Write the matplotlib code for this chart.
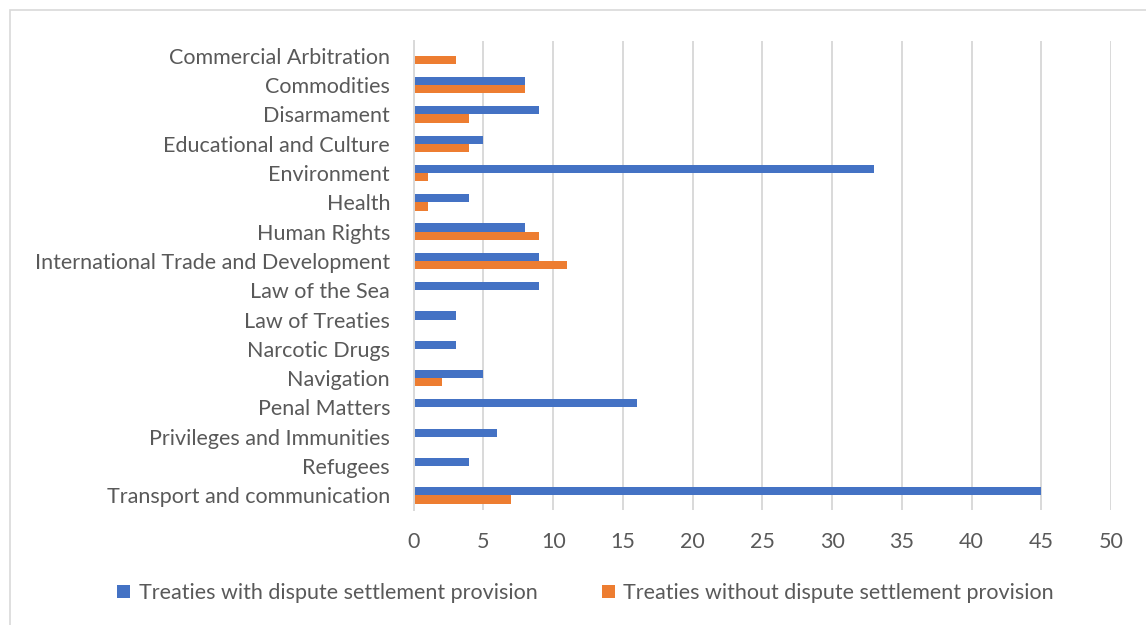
import numpy as np
import matplotlib.pyplot as plt
from matplotlib.patches import Rectangle

plt.rcParams['font.family'] = ['Lato', 'DejaVu Sans']

categories = ["Commercial Arbitration", "Commodities", "Disarmament",
              "Educational and Culture", "Environment", "Health", "Human Rights",
              "International Trade and Development", "Law of the Sea",
              "Law of Treaties", "Narcotic Drugs", "Navigation", "Penal Matters",
              "Privileges and Immunities", "Refugees", "Transport and communication"]
with_provision = [0, 8, 9, 5, 33, 4, 8, 9, 9, 3, 3, 5, 16, 6, 4, 45]
without_provision = [3, 8, 4, 4, 1, 1, 9, 11, 0, 0, 0, 2, 0, 0, 0, 7]
xticks = list(range(0, 51, 5))

txt = "#595959"
blue = "#4472C4"
orange = "#ED7D31"
fs = 15.5

fig = plt.figure(figsize=(11.46, 6.25), dpi=100)
fig.patches.append(Rectangle((10 / 1146, -0.01), 1.0, 1 - 10 / 625 + 0.01,
                             transform=fig.transFigure, fill=False,
                             edgecolor="#d9d9d9", linewidth=1.2))
ax = fig.add_axes([0.361, 0.184, 0.6085, 0.750])

y = np.arange(len(categories))
h = 0.28
ax.barh(y - h / 2, with_provision, height=h, color=blue,
        label="Treaties with dispute settlement provision")
ax.barh(y + h / 2, without_provision, height=h, color=orange,
        label="Treaties without dispute settlement provision")

ax.set_ylim(len(categories) - 0.5, -0.5)
ax.set_xlim(0, 50)
ax.set_yticks(y)
ax.set_yticklabels(categories, fontsize=fs, color=txt)
ax.set_xticks(xticks)
ax.set_xticklabels([str(t) for t in xticks], fontsize=fs, color=txt)
ax.tick_params(axis="both", length=0)
ax.tick_params(axis="x", pad=16)
ax.tick_params(axis="y", pad=17)
for lbl in ax.get_yticklabels():
    lbl.set_y(lbl.get_position()[1])
ax.grid(axis="x", color="#d9d9d9", linewidth=1.4)
ax.set_axisbelow(True)
for s in ["top", "right", "bottom"]:
    ax.spines[s].set_visible(False)
ax.spines["left"].set_color("#d9d9d9")
ax.spines["left"].set_linewidth(1.4)

fig.legend(loc="center", bbox_to_anchor=(0.511, 0.051), ncol=2, frameon=False,
           fontsize=fs, labelcolor=txt, handlelength=0.6, handleheight=0.6,
           handletextpad=0.4, columnspacing=3.0)

fig.savefig("out.png", dpi=100)
